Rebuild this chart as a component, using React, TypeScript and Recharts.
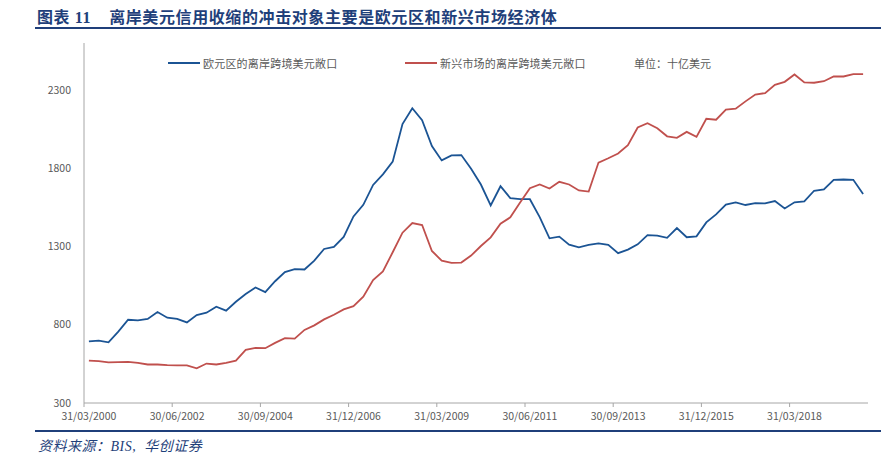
import { LineChart, Line, XAxis, YAxis } from 'recharts'

// quarterly, 31/03/2000 .. 31/12/2019, billions of USD
const euroArea = [
  694, 699, 688, 756, 832, 828, 837, 881, 845, 837,
  815, 862, 877, 915, 890, 947, 996, 1038, 1008, 1078,
  1136, 1155, 1153, 1210, 1284, 1297, 1361, 1492, 1566, 1693,
  1761, 1842, 2082, 2183, 2107, 1942, 1850, 1882, 1884, 1797,
  1696, 1562, 1685, 1609, 1602, 1602, 1488, 1352, 1363, 1312,
  1295, 1310, 1320, 1310, 1257, 1280, 1314, 1372, 1369, 1355,
  1418, 1359, 1365, 1454, 1505, 1567, 1582, 1565, 1577, 1575,
  1590, 1543, 1582, 1588, 1656, 1664, 1726, 1728, 1726, 1635,
]

const emerging = [
  571, 567, 559, 561, 563, 557, 546, 546, 542, 540,
  540, 521, 552, 546, 557, 571, 639, 652, 650, 684,
  714, 711, 767, 796, 834, 864, 898, 919, 979, 1085,
  1140, 1263, 1388, 1450, 1437, 1271, 1210, 1195, 1197, 1242,
  1303, 1358, 1445, 1486, 1581, 1672, 1696, 1670, 1713, 1696,
  1658, 1651, 1836, 1864, 1894, 1947, 2060, 2087, 2055, 2004,
  1994, 2032, 2000, 2116, 2110, 2174, 2180, 2227, 2271, 2280,
  2333, 2352, 2399, 2348, 2346, 2356, 2386, 2386, 2401, 2401,
]

// one label every 9 quarters
const tickLabels = [
  '31/03/2000', '30/06/2002', '30/09/2004', '31/12/2006', '31/03/2009',
  '30/06/2011', '30/09/2013', '31/12/2015', '31/03/2018',
]

const yTicks = [300, 800, 1300, 1800, 2300]

const BLUE = '#1B5494'
const RED = '#C0504D'
const NAVY = '#1F3F7A'
const GREY_TEXT = '#595959'
const AXIS = '#A6A6A6'

const W = 881
const H = 457
const M = { top: 43, right: 13, bottom: 24, left: 0 }
const Y_AXIS_W = 84
const N = euroArea.length
const halfStep = (W - M.left - M.right - Y_AXIS_W) / N / 2

const data = euroArea.map((v, i) => ({ idx: i, euro: v, em: emerging[i] }))
const xTicks = tickLabels.map((_, k) => k * 9 - 0.5)

const cjk = "'Noto Sans CJK SC', 'Noto Sans', sans-serif"

function DateTick({ x, y, index }: any) {
  return (
    <text
      x={x + halfStep}
      y={y}
      dy="0.71em"
      textAnchor="middle"
      fill={GREY_TEXT}
      fontSize={10.5}
      fontFamily={cjk}
    >
      {tickLabels[index]}
    </text>
  )
}

function LegendItem({ color, label, left }: { color: string; label: string; left: number }) {
  return (
    <div style={{ position: 'absolute', left, top: 55, display: 'flex', alignItems: 'center', height: 16 }}>
      <div style={{ width: 32, height: 2, background: color, marginRight: 3 }} />
      <span style={{ fontSize: 11, color: GREY_TEXT, fontFamily: cjk, letterSpacing: 0.2 }}>{label}</span>
    </div>
  )
}

export default function App() {
  return (
    <div style={{ position: 'absolute', left: 0, top: 0, width: W, height: H, background: '#fff', overflow: 'hidden' }}>
      <div
        style={{
          position: 'absolute',
          left: 37,
          top: 4,
          fontSize: 16,
          fontWeight: 700,
          color: NAVY,
          letterSpacing: 0.6,
          whiteSpace: 'nowrap',
          fontFamily: "'Liberation Serif', 'Noto Sans CJK SC', serif",
        }}
      >
        图表 11<span style={{ display: 'inline-block', width: 18 }} />离岸美元信用收缩的冲击对象主要是欧元区和新兴市场经济体
      </div>
      <div style={{ position: 'absolute', left: 35, right: 0, top: 27, height: 2, background: NAVY }} />

      <LineChart width={W} height={H} data={data} margin={M}>
        <XAxis
          type="number"
          dataKey="idx"
          domain={[-0.5, N - 0.5]}
          ticks={xTicks}
          interval={0}
          stroke={AXIS}
          tickSize={4}
          tickMargin={6}
          tick={<DateTick />}
        />
        <YAxis
          domain={[300, 2600]}
          ticks={yTicks}
          width={Y_AXIS_W}
          stroke={AXIS}
          tickLine={false}
          tickSize={0}
          tickMargin={13}
          tick={{ fill: GREY_TEXT, fontSize: 10.5, fontFamily: cjk }}
        />
        <Line type="linear" dataKey="euro" stroke={BLUE} strokeWidth={1.8} dot={false} isAnimationActive={false} />
        <Line type="linear" dataKey="em" stroke={RED} strokeWidth={1.8} dot={false} isAnimationActive={false} />
      </LineChart>

      <LegendItem color={BLUE} label="欧元区的离岸跨境美元敞口" left={168} />
      <LegendItem color={RED} label="新兴市场的离岸跨境美元敞口" left={405} />
      <div style={{ position: 'absolute', left: 634, top: 55, height: 16, lineHeight: '16px', fontSize: 11, color: GREY_TEXT, fontFamily: cjk }}>
        单位：十亿美元
      </div>

      <div style={{ position: 'absolute', left: 35, right: 0, top: 430, height: 2, background: NAVY }} />
      <div
        style={{
          position: 'absolute',
          left: 38,
          top: 435,
          fontSize: 14,
          fontStyle: 'italic',
          color: NAVY,
          letterSpacing: 0.5,
          whiteSpace: 'nowrap',
          fontFamily: "'Liberation Serif', 'Noto Sans CJK SC', serif",
        }}
      >
        资料来源：BIS,&nbsp;&nbsp;华创证券
      </div>
    </div>
  )
}
